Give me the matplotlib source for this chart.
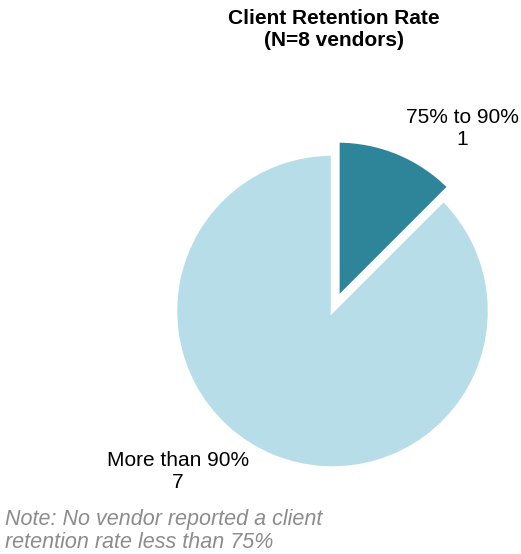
import matplotlib.pyplot as plt

# vendor counts by retention band
categories = ['75% to 90%', 'More than 90%']
counts = [1, 7]
colors = ['#2E859A', '#B7DEE8']

plt.rcParams['font.family'] = ['Liberation Sans', 'DejaVu Sans']

fig = plt.figure(figsize=(5.21, 5.54), dpi=100)
W, H = 521, 554
# axes sized so one data unit is 157 px, pie centred at (332, 243) px from bottom-left
r_px = 157
cx, cy = 332.5, 243
span = 1.5
ax = fig.add_axes([(cx - span * r_px) / W, (cy - span * r_px) / H,
                   2 * span * r_px / W, 2 * span * r_px / H])

ax.pie(counts, colors=colors, startangle=90, counterclock=False,
       explode=[0.09, 0], radius=1.0,
       wedgeprops=dict(edgecolor='white', linewidth=2.5))

# pie() resets the limits, so set them afterwards
ax.set_xlim(-span, span)
ax.set_ylim(-span, span)
ax.set_aspect('equal')
ax.axis('off')

ax.text(0.825, 1.165, f'{categories[0]}\n{counts[0]}', ha='center', va='center',
        fontsize=15, linespacing=1.2)
ax.text(-0.985, -1.025, f'{categories[1]}\n{counts[1]}', ha='center', va='center',
        fontsize=15, linespacing=1.2)

fig.text(334 / W, 1 - 30 / H, 'Client Retention Rate\n(N=8 vendors)', ha='center',
         va='center', fontsize=15, fontweight='bold', linespacing=1.2)

fig.text(5 / W, 1 - 531 / H, 'Note: No vendor reported a client\nretention rate less than 75%',
         ha='left', va='center', fontsize=15.5, style='italic', color='#8C8C8C',
         linespacing=1.12)

fig.savefig('out.png', dpi=100)
